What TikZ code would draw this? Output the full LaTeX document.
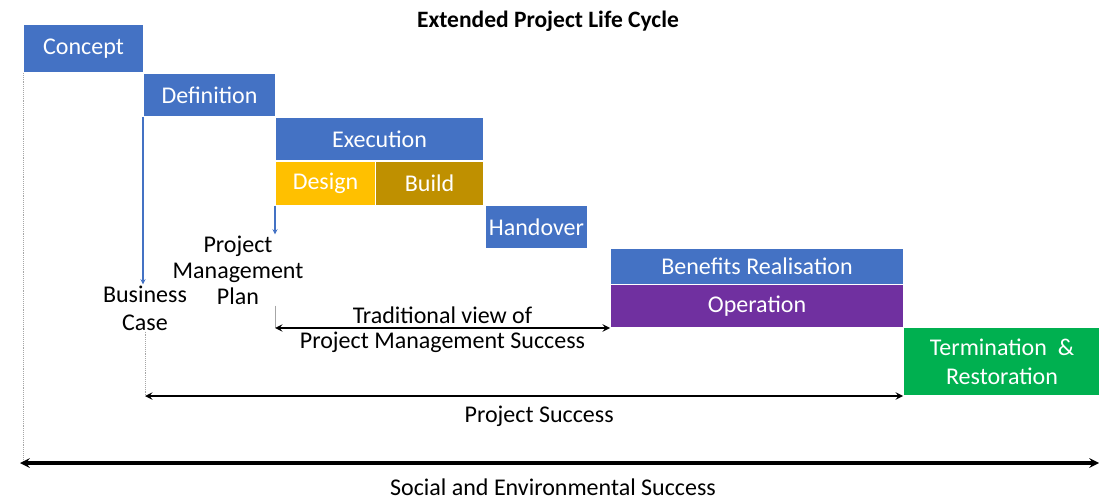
\documentclass[tikz,border=0pt]{standalone}
\usepackage{fontspec}
\setmainfont{Carlito}
\usepackage{tikz}
\usetikzlibrary{arrows}
\usetikzlibrary{positioning}

\definecolor{phaseblue}{HTML}{4472C4}
\definecolor{designgold}{HTML}{FFC000}
\definecolor{buildgold}{HTML}{BF9000}
\definecolor{opspurple}{HTML}{7030A0}
\definecolor{endgreen}{HTML}{00B050}

\begin{document}
\begin{tikzpicture}[
	x = 1pt, y = -1pt, % pixel grid, y downwards
	> = stealth, % arrow head style
	semithick, % line style
	font = \fontsize{24}{26}\selectfont
	]

	\tikzset{
	phase/.style = {
		fill = phaseblue,
		draw = white,
		line width = 1pt,
		text = white,
		inner sep = 0pt,
		anchor = north west
	},
	label text/.style = {
		align = center,
		inner sep = 1pt
	},
	blue arrow/.style = {->, draw = phaseblue, line width = 1.3pt},
	grey dots/.style = {draw = gray!70, densely dotted, line width = 0.9pt},
	span/.style = {<->, line width = 2.2pt}
	}

	\useasboundingbox (0,0) rectangle (1099,502);

	\node[font=\bfseries\fontsize{23.5}{26}\selectfont] (title) at (548,21) {Extended Project Life Cycle};

	% phases
	\node[phase, minimum width=120pt, minimum height=48pt] (concept) at (23,24) {Concept};
	\node[phase, minimum width=132pt, minimum height=43pt] (definition) at (143,73) {Definition};
	\node[phase, minimum width=208pt, minimum height=43pt] (execution) at (275,117) {Execution};
	\node[phase, fill=designgold, minimum width=100pt, minimum height=44pt] (design) at (275,161) {Design};
	\node[phase, fill=buildgold, minimum width=108pt, minimum height=44pt] (build) at (375,161) {Build};
	\node[phase, minimum width=102pt, minimum height=43pt] (handover) at (485,205) {Handover};
	\node[phase, minimum width=293pt, minimum height=36pt] (benefits) at (610,248) {Benefits Realisation};
	\node[phase, fill=opspurple, minimum width=293pt, minimum height=43pt] (operation) at (610,284) {Operation};
	\node[phase, fill=endgreen, minimum width=197pt, minimum height=68pt, align=center,
		font=\fontsize{24}{29}\selectfont] (termination) at (903,327) {Termination\ \ \&\\Restoration};

	% deliverables
	\node[label text] (pmplan) at (238,270) {Project\\Management\\Plan};
	\node[label text, font=\fontsize{24}{28}\selectfont] (bcase) at (145,308) {Business\\Case};

	\coordinate (socL) at (20,463);
	\coordinate (socR) at (1099,463);
	\coordinate (tradL) at (design.south west |- operation.south west);
	\coordinate (projL) at (bcase.south |- termination.south west);

	\path[blue arrow] (definition.south west) -- (definition.south west |- bcase.north);
	\path[blue arrow] (design.south west) -- (design.south west |- pmplan.north);

	\path[grey dots] (concept.south west) -- (concept.south west |- socL);
	\path[grey dots] (bcase.south) -- (projL);
	\path[draw=gray!70, thin] (design.south west |- pmplan.south) -- (tradL);

	% success spans
	\draw[span] (tradL) -- (operation.south west)
		node[midway, above=0pt] {Traditional view of}
		node[midway, below=0pt] {Project Management Success};
	\draw[span] (projL) -- (termination.south west)
		node[pos=0.52, below=6pt] (projsucc) {Project Success};
	\draw[span, line width=3.2pt] (socL) -- (socR)
		node[pos=0.494, below=11pt] (socsucc) {Social and Environmental Success};

\end{tikzpicture}
\end{document}
